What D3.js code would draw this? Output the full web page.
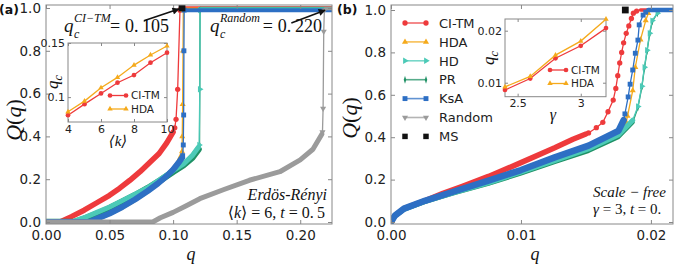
<!DOCTYPE html>
<html>
<head>
<meta charset="utf-8">
<script src="https://cdn.jsdelivr.net/npm/d3@7"></script>
<style>
  body { margin: 0; background: #fff; }
  text { font-family: "DejaVu Sans", sans-serif; }
</style>
</head>
<body>
<svg id="chart" width="678" height="264"></svg>
<script>
// ---- tick values ----
const qTicksA = [0, 0.05, 0.10, 0.15, 0.20];
const qTicksB = [0, 0.01, 0.02];
const QTicks = [0, 0.2, 0.4, 0.6, 0.8, 1.0];
const kTicks = [4, 6, 8, 10];
const qcTicksK = [0.1, 0.15];
const gammaTicks = [2.5, 3];
const qcTicksG = [0.01, 0.02];

// ---- inset data ----
const kValues = [4, 5, 6, 7, 8, 9, 10];
const qcCiTmK = [0.0833, 0.0935, 0.1034, 0.1133, 0.1204, 0.1318, 0.1410];
const qcHdaK  = [0.0864, 0.0963, 0.1086, 0.1182, 0.1296, 0.1389, 0.1472];
const gammaValues = [2.4, 2.6, 2.8, 3.0, 3.2];
const qcCiTmG = [0.0086, 0.0108, 0.0147, 0.0171, 0.0205];
const qcHdaG  = [0.0092, 0.0112, 0.0153, 0.0180, 0.0222];

// ---- panel (a): Erdos-Renyi, [q, Q] ----
const ciTmBandA = [[0,0],[0.011,0],[0.02,0.025],[0.03,0.055],[0.04,0.09],[0.05,0.125],[0.058,0.158],[0.066,0.195],[0.074,0.235],[0.082,0.28],[0.089,0.32],[0.095,0.37],[0.1,0.42]];
const ciTmJumpA = [[0.1013,0.44],[0.1023,0.48],[0.1036,0.62],[0.1054,0.99]];
const ciTmTopA  = [[0.1056,1],[0.225,1]];
const hdaBandA  = [[0,0],[0.034,0],[0.04,0.015],[0.05,0.04],[0.06,0.07],[0.07,0.105],[0.08,0.145],[0.088,0.18],[0.095,0.215],[0.1,0.245],[0.104,0.275],[0.1068,0.31]];
const hdaJumpA  = [[0.1070,0.33],[0.1072,0.40],[0.1075,0.55],[0.1078,0.80],[0.1080,0.99]];
const hdaTopA   = [[0.1082,0.995],[0.225,0.995]];
const hdBandA   = [[0,0],[0.02,0],[0.03,0.02],[0.04,0.045],[0.05,0.07],[0.06,0.1],[0.07,0.13],[0.08,0.16],[0.09,0.2],[0.1,0.24],[0.108,0.27],[0.115,0.31],[0.12,0.35]];
const hdJumpA   = [[0.1205,0.36],[0.121,0.62],[0.1212,0.99]];
const hdTopA    = [[0.1215,0.997],[0.225,0.997]];
const prBandA   = [[0,0],[0.022,0],[0.03,0.015],[0.04,0.038],[0.05,0.065],[0.06,0.095],[0.07,0.125],[0.08,0.158],[0.09,0.195],[0.1,0.235],[0.108,0.265],[0.115,0.3],[0.12,0.34]];
const prJumpA   = [[0.1208,0.36],[0.1212,0.99]];
const prTopA    = [[0.1215,0.995],[0.225,0.995]];
const ksaBandA  = [[0,0],[0.034,0],[0.04,0.015],[0.05,0.04],[0.06,0.07],[0.07,0.105],[0.08,0.145],[0.088,0.18],[0.095,0.215],[0.1,0.245],[0.104,0.275],[0.107,0.30]];
const ksaJumpA  = [[0.1075,0.31],[0.108,0.36],[0.1083,0.5],[0.1085,0.8],[0.1087,0.99]];
const ksaTopA   = [[0.109,0.99],[0.225,0.99]];
const randBandA = [[0,0],[0.084,0],[0.09,0.02],[0.1,0.045],[0.11,0.075],[0.121,0.109],[0.14,0.152],[0.16,0.195],[0.184,0.235],[0.2,0.29],[0.21,0.34],[0.217,0.41]];
const randJumpA = [[0.2175,0.42],[0.218,0.53],[0.2185,0.89],[0.219,0.99]];
const randTopA  = [[0.2195,0.997],[0.225,0.997]];
const msA = [[0.107, 1.0]];

// ---- panel (b): scale-free, [q, Q] ----
const ciTmBandB = [[0,0],[0.0003,0.03],[0.001,0.063],[0.0026,0.10],[0.004,0.135],[0.0055,0.168],[0.0075,0.215],[0.01,0.28],[0.0126,0.35],[0.014,0.39],[0.015,0.415]];
const ciTmJumpB = [[0.0152,0.42],[0.0158,0.445],[0.0163,0.47],[0.0167,0.52],[0.0171,0.575],[0.0173,0.63],[0.01745,0.69],[0.0176,0.75],[0.01775,0.80],[0.0179,0.845],[0.0181,0.89],[0.0183,0.925],[0.0185,0.96],[0.01865,0.985],[0.0189,0.995]];
const ciTmTopB  = [[0.0192,1],[0.0217,1]];
const hdaBandB  = [[0,0],[0.0003,0.03],[0.001,0.063],[0.0026,0.10],[0.0049,0.145],[0.0075,0.195],[0.01,0.245],[0.0126,0.305],[0.0152,0.36],[0.0175,0.43],[0.018,0.46]];
const hdaJumpB  = [[0.0181,0.47],[0.0182,0.5],[0.0186,0.62],[0.0188,0.73],[0.0192,0.86],[0.0196,0.95],[0.0198,0.985]];
const hdaTopB   = [[0.02,1],[0.0217,1]];
const hdBandB   = [[0,0],[0.0003,0.028],[0.001,0.06],[0.0026,0.097],[0.0049,0.14],[0.0075,0.185],[0.01,0.235],[0.0126,0.29],[0.0152,0.345],[0.0175,0.41],[0.0186,0.48]];
const hdJumpB   = [[0.0190,0.545],[0.0193,0.64],[0.0195,0.73],[0.0197,0.81],[0.0199,0.89],[0.0201,0.95],[0.0205,0.985]];
const hdTopB    = [[0.0208,1],[0.0217,1]];
const prBandB   = [[0,0],[0.0003,0.027],[0.001,0.058],[0.0026,0.094],[0.0049,0.136],[0.0075,0.18],[0.01,0.228],[0.0126,0.282],[0.0152,0.335],[0.0175,0.40],[0.0186,0.47]];
const prJumpB   = [[0.0190,0.54],[0.0193,0.635],[0.0195,0.725],[0.0197,0.805],[0.0199,0.885],[0.0201,0.945],[0.0205,0.985]];
const prTopB    = [[0.0208,1],[0.0217,1]];
const ksaBandB  = [[0,0],[0.0003,0.03],[0.001,0.063],[0.0026,0.10],[0.0049,0.145],[0.0075,0.195],[0.01,0.245],[0.0126,0.305],[0.0152,0.36],[0.0175,0.43],[0.0179,0.48]];
const ksaJumpB  = [[0.0180,0.51],[0.01825,0.59],[0.0184,0.65],[0.0186,0.717],[0.0188,0.796],[0.0190,0.858],[0.0191,0.93],[0.0194,0.976],[0.0196,0.99]];
const ksaTopB   = [[0.0198,1],[0.0217,1]];
const msB = [[0.01803, 1.0]];

const legendLabels = ["CI-TM", "HDA", "HD", "PR", "KsA", "Random", "MS"];

// ---- styles ----
const C = { red: "#ee3a3c", orange: "#f5aa1c", teal: "#4ccab7", green: "#1f9165", blue: "#2d6fc4", gray: "#9b9b9b", black: "#111" };
const styles = {
  "CI-TM":  { color: C.red,    sym: d3.symbolCircle,   size: 22, rot: 0 },
  "HDA":    { color: C.orange, sym: d3.symbolTriangle, size: 16, rot: 0 },
  "HD":     { color: C.teal,   sym: d3.symbolTriangle, size: 18, rot: 90 },
  "PR":     { color: C.green,  sym: d3.symbolDiamond,  size: 18, rot: 0, sx: 0.55 },
  "KsA":    { color: C.blue,   sym: d3.symbolSquare,   size: 24, rot: 0 },
  "Random": { color: C.gray,   sym: d3.symbolTriangle, size: 16, rot: 180 },
  "MS":     { color: C.black,  sym: d3.symbolSquare,   size: 46, rot: 0 }
};

const serif = '"Liberation Serif", "DejaVu Serif", serif';
const svg = d3.select("#chart");

const xA = d3.scaleLinear().domain([0, 0.225]).range([46, 332]);
const yA = d3.scaleLinear().domain([-0.0093, 1.014]).range([224, 5]);
const xB = d3.scaleLinear().domain([0, 0.0217]).range([391, 673]);
const yB = d3.scaleLinear().domain([-0.0094, 1.0236]).range([224, 5]);

function axes(g, x, y, xTicks, yTicks, xFmt, yFmt, fontSize, len, pad, xPad) {
  const [x0, x1] = x.range(), [y0, y1] = y.range();
  g.append("g").attr("transform", `translate(0,${y0})`)
    .call(d3.axisBottom(x).tickValues(xTicks).tickFormat(xFmt).tickSizeInner(-len).tickSizeOuter(0).tickPadding(xPad || pad));
  g.append("g").attr("transform", `translate(0,${y1})`)
    .call(d3.axisTop(x).tickValues(xTicks).tickFormat(() => "").tickSizeInner(-len).tickSizeOuter(0));
  g.append("g").attr("transform", `translate(${x0},0)`)
    .call(d3.axisLeft(y).tickValues(yTicks).tickFormat(yFmt).tickSizeInner(-len).tickSizeOuter(0).tickPadding(pad));
  g.append("g").attr("transform", `translate(${x1},0)`)
    .call(d3.axisRight(y).tickValues(yTicks).tickFormat(() => "").tickSizeInner(-len).tickSizeOuter(0));
  g.selectAll(".domain").remove();
  g.selectAll(".tick line").attr("stroke", "#888");
  g.selectAll(".tick text").attr("fill", "#222")
    .style("font-size", fontSize + "px").style("font-family", '"DejaVu Sans", sans-serif');
  g.append("rect").attr("x", x0).attr("y", y1).attr("width", x1 - x0).attr("height", y0 - y1)
    .attr("fill", "none").attr("stroke", "#888").attr("stroke-width", 1);
}

function marker(sel, st) {
  sel.attr("d", d3.symbol(st.sym, st.size)()).attr("fill", st.color);
}

function drawSeries(g, x, y, name, band, jump, top, w) {
  const st = styles[name];
  const line = d3.line().x(d => x(d[0])).y(d => y(d[1]));
  g.append("path").attr("d", line(band.concat(jump, top))).attr("fill", "none")
    .attr("stroke", st.color).attr("stroke-width", 1.3);
  [[band, w], [top, Math.max(2, w - 2)]].forEach(([seg, sw]) => {
    if (seg.length) g.append("path").attr("d", line(seg)).attr("fill", "none")
      .attr("stroke", st.color).attr("stroke-width", sw)
      .attr("stroke-linecap", "round").attr("stroke-linejoin", "round");
  });
  g.selectAll(null).data(jump).join("path")
    .attr("transform", d => `translate(${x(d[0])},${y(d[1])}) rotate(${st.rot}) scale(${st.sx || 1},1)`)
    .call(marker, st);
}

function drawPanel(id, x, y, series, ms) {
  const g = svg.append("g");
  const [x0, x1] = x.range(), [y0, y1] = y.range();
  g.append("clipPath").attr("id", id).append("rect")
    .attr("x", x0).attr("y", y1).attr("width", x1 - x0).attr("height", y0 - y1);
  const body = g.append("g").attr("clip-path", `url(#${id})`);
  series.forEach(s => drawSeries(body, x, y, ...s));
  body.selectAll(null).data(ms).join("path")
    .attr("transform", d => `translate(${x(d[0])},${y(d[1])})`)
    .call(marker, styles["MS"]);
  return g;
}

// ---------- panel (a) ----------
const gA = drawPanel("clipA", xA, yA, [
  ["CI-TM", ciTmBandA, ciTmJumpA, ciTmTopA, 5.5],
  ["HDA", hdaBandA, hdaJumpA, hdaTopA, 5],
  ["PR", prBandA, prJumpA, prTopA, 6.5],
  ["HD", hdBandA, hdJumpA, hdTopA, 5],
  ["KsA", ksaBandA, ksaJumpA, ksaTopA, 6],
  ["Random", randBandA, randJumpA, randTopA, 5]
], msA);
axes(gA, xA, yA, qTicksA, QTicks, d3.format(".2f"), d3.format(".1f"), 13.5, 4, 5, 6);

// ---------- panel (b) ----------
const gB = drawPanel("clipB", xB, yB, [
  ["CI-TM", ciTmBandB, ciTmJumpB, ciTmTopB, 5.5],
  ["HDA", hdaBandB, hdaJumpB, hdaTopB, 5],
  ["PR", prBandB, prJumpB, prTopB, 4],
  ["HD", hdBandB, hdJumpB, hdTopB, 5],
  ["KsA", ksaBandB, ksaJumpB, ksaTopB, 6.5]
], msB);
axes(gB, xB, yB, qTicksB, QTicks, d3.format(".2f"), d3.format(".1f"), 13.5, 4, 5, 6);

// ---------- insets ----------
function inset(x, y, xs, series, xTicks, yTicks, xFmt, yFmt, legX, legY) {
  const g = svg.append("g");
  const [x0, x1] = x.range(), [y0, y1] = y.range();
  g.append("rect").attr("x", x0).attr("y", y1).attr("width", x1 - x0).attr("height", y0 - y1).attr("fill", "#fff");
  axes(g, x, y, xTicks, yTicks, xFmt, yFmt, 11, 3, 3);
  series.forEach(([name, vals]) => {
    const st = styles[name];
    const pts = xs.map((v, i) => [v, vals[i]]);
    g.append("path").attr("d", d3.line().x(d => x(d[0])).y(d => y(d[1]))(pts))
      .attr("fill", "none").attr("stroke", st.color).attr("stroke-width", 1.3);
    g.selectAll(null).data(pts).join("path")
      .attr("transform", d => `translate(${x(d[0])},${y(d[1])})`)
      .call(marker, { ...st, size: st.size * 0.8 });
  });
  series.forEach(([name], i) => {
    const st = styles[name], yy = legY + i * 13.5;
    g.append("line").attr("x1", legX).attr("x2", legX + 16).attr("y1", yy).attr("y2", yy)
      .attr("stroke", st.color).attr("stroke-width", 1.3);
    [legX, legX + 16].forEach(px => g.append("path").attr("transform", `translate(${px},${yy})`)
      .call(marker, { ...st, size: st.size * 0.8 }));
    g.append("text").attr("x", legX + 21).attr("y", yy + 3.8).style("font-size", "10.5px").attr("fill", "#222").text(name);
  });
  return g;
}

const xIA = d3.scaleLinear().domain([4, 10]).range([68, 167]);
const yIA = d3.scaleLinear().domain([0.077, 0.15]).range([122, 43]);
inset(xIA, yIA, kValues, [["CI-TM", qcCiTmK], ["HDA", qcHdaK]], kTicks, qcTicksK,
  d3.format("d"), d => d === 0.1 ? "0.1" : "0.15", 110, 95.5);

const xIB = d3.scaleLinear().domain([2.4, 3.2]).range([505, 606]);
const yIB = d3.scaleLinear().domain([0.00731, 0.02225]).range([96.7, 19]);
inset(xIB, yIB, gammaValues, [["CI-TM", qcCiTmG], ["HDA", qcHdaG]], gammaTicks, qcTicksG,
  d => d === 3 ? "3" : "2.5", d3.format(".2f"), 550, 70);

// ---------- legend (b) ----------
const leg = svg.append("g");
legendLabels.forEach((name, i) => {
  const st = styles[name], yy = 23 + i * 18.9;
  if (name !== "MS") {
    leg.append("line").attr("x1", 405).attr("x2", 426).attr("y1", yy).attr("y2", yy)
      .attr("stroke", st.color).attr("stroke-width", 1.6).attr("opacity", 0.75);
  }
  [405, 426].forEach(px => leg.append("path")
    .attr("transform", `translate(${px},${yy}) rotate(${st.rot}) scale(${st.sx || 1},1)`)
    .call(marker, { ...st, size: name === "MS" ? 30 : st.size }));
  leg.append("text").attr("x", 439).attr("y", yy + 4.7).style("font-size", "13px").attr("fill", "#222").text(name);
});

// ---------- text & annotations ----------
function t(x, y, str, size, opts = {}) {
  const el = svg.append("text").attr("x", x).attr("y", y).text(str)
    .style("font-family", opts.sans ? '"DejaVu Sans", sans-serif' : serif)
    .style("font-size", size + "px").style("font-style", opts.italic ? "italic" : "normal")
    .style("font-weight", opts.bold ? "bold" : "normal")
    .attr("text-anchor", opts.anchor || "start").attr("fill", "#111");
  return el;
}

t(-1, 14, "(a)", 12.5, { sans: true, bold: true });
t(337, 14, "(b)", 12.5, { sans: true, bold: true });

function qOfQ(x, y) {
  const el = svg.append("text").attr("transform", `translate(${x},${y}) rotate(-90)`)
    .attr("text-anchor", "middle").style("font-family", serif).style("font-size", "22px").attr("fill", "#111");
  el.append("tspan").style("font-style", "italic").text("Q");
  el.append("tspan").text("(");
  el.append("tspan").style("font-style", "italic").text("q");
  el.append("tspan").text(")");
}
qOfQ(21, 120);
qOfQ(357, 118);
t(191, 259.5, "q", 18, { italic: true, anchor: "middle" });
t(535, 259.5, "q", 18, { italic: true, anchor: "middle" });

// q_c labels of insets
function qc(x, y, size) {
  const el = svg.append("text").attr("transform", `translate(${x},${y}) rotate(-90)`)
    .attr("text-anchor", "middle").style("font-family", serif).style("font-size", size + "px")
    .style("font-style", "italic").attr("fill", "#111");
  el.append("tspan").text("q");
  el.append("tspan").attr("dy", 4).style("font-size", (size * 0.7) + "px").text("c");
}
qc(58, 82, 17);
qc(494, 58, 17);
t(118, 146, "\u27E8k\u27E9", 15, { italic: true, anchor: "middle" });
t(553, 120, "\u03B3", 16, { italic: true, anchor: "middle" });

// critical point annotations
function crit(x, y, sup, val) {
  t(x, y, "q", 19, { italic: true });
  t(x + 10, y + 6, "c", 12, { italic: true });
  t(x + 10, y - 10, sup, 12, { italic: true });
  const supW = sup.length * 6.8;
  t(x + 12 + supW, y, "=", 18);
  t(x + 27 + supW, y, val, 18);
}
crit(64, 32, "CI\u2212TM", "0.\u2009105");
crit(210, 32, "Random", "0.\u2009220");

const arrows = [
  [[0.077, 0.94], [0.1045, 0.995]],
  [[0.193, 0.93], [0.2195, 0.99]]
];
svg.append("defs").append("marker").attr("id", "ah").attr("viewBox", "0 0 10 10")
  .attr("refX", 9).attr("refY", 5).attr("markerWidth", 9).attr("markerHeight", 7)
  .attr("markerUnits", "userSpaceOnUse").attr("orient", "auto")
  .append("path").attr("d", "M0,0 L10,5 L0,10 Z").attr("fill", "#111");
arrows.forEach(([a, b]) => svg.append("line")
  .attr("x1", xA(a[0])).attr("y1", yA(a[1])).attr("x2", xA(b[0])).attr("y2", yA(b[1]))
  .attr("stroke", "#111").attr("stroke-width", 1.6).attr("marker-end", "url(#ah)"));

t(327, 200, "Erd\u00F6s-R\u00E9nyi", 16, { italic: true, anchor: "end" });
const kt = svg.append("text").attr("x", 325).attr("y", 218).attr("text-anchor", "end")
  .style("font-family", serif).style("font-size", "16px").attr("fill", "#111");
kt.append("tspan").text("\u27E8");
kt.append("tspan").style("font-style", "italic").text("k");
kt.append("tspan").text("\u27E9 = 6,  ");
kt.append("tspan").style("font-style", "italic").text("t");
kt.append("tspan").text(" = 0.\u20095");

t(593, 197, "Scale \u2212 free", 15, { italic: true });
const gt = svg.append("text").attr("x", 593).attr("y", 214)
  .style("font-family", serif).style("font-size", "15px").attr("fill", "#111");
gt.append("tspan").style("font-style", "italic").text("\u03B3");
gt.append("tspan").text(" = 3,  ");
gt.append("tspan").style("font-style", "italic").text("t");
gt.append("tspan").text(" = 0.");
</script>
</body>
</html>
